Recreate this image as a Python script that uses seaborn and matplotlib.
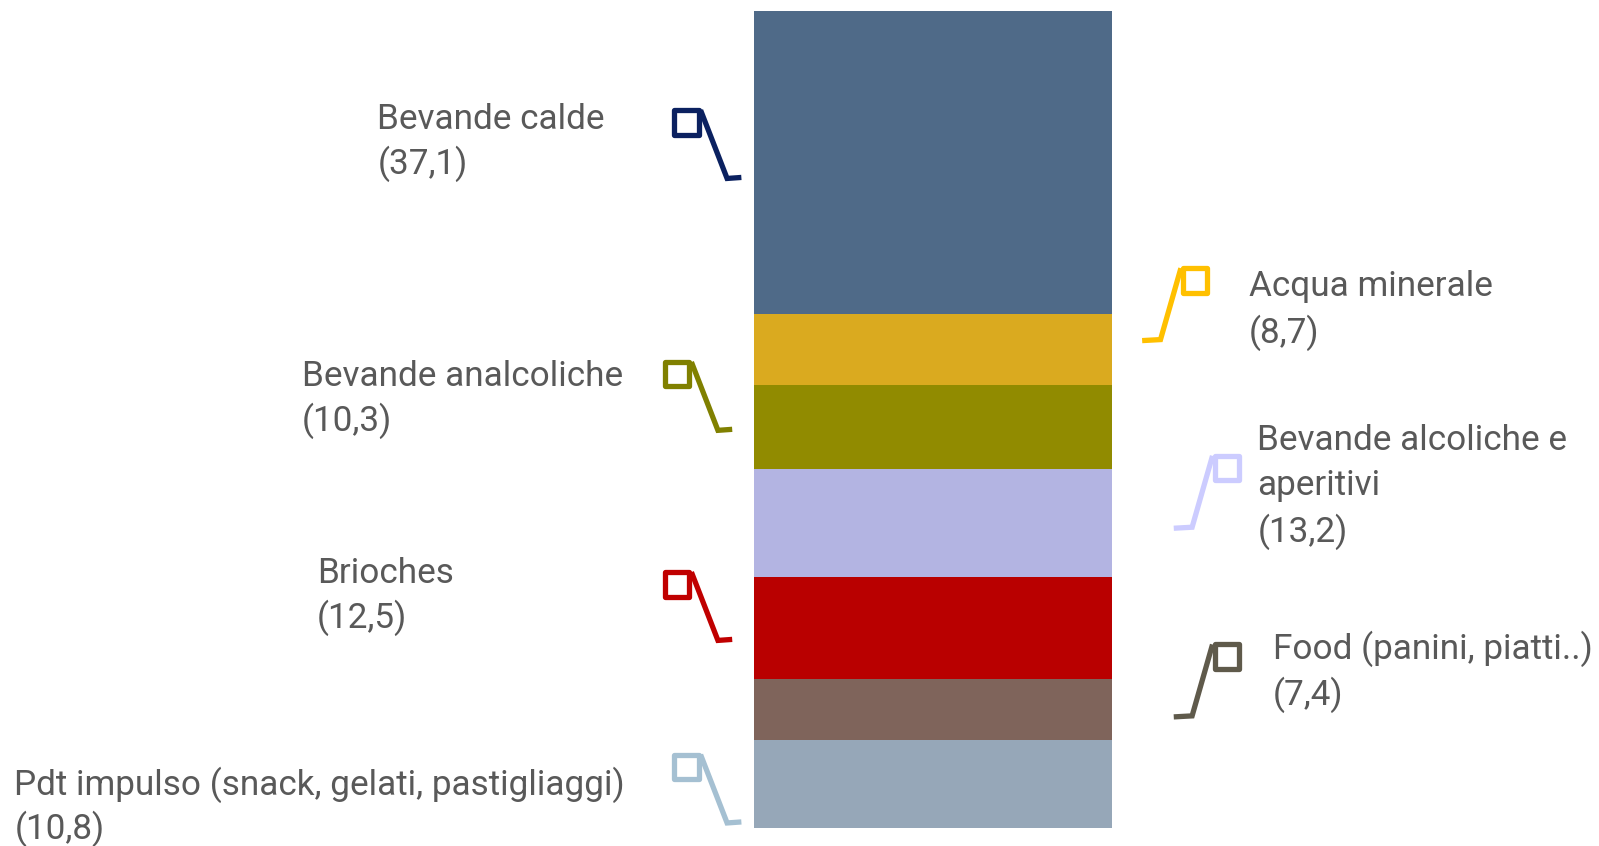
#!/usr/bin/env python3
"""Composizione dei consumi al bar: una sola colonna in pila."""
import matplotlib
matplotlib.use("Agg")
import matplotlib.pyplot as plt
import numpy as np
import seaborn as sns

sns.set_style("white")
plt.rcParams["font.family"] = ["Roboto", "DejaVu Sans"]

# data, from top of the bar to the bottom
categories = ["Bevande calde", "Acqua minerale", "Bevande analcoliche",
              "Bevande alcoliche e aperitivi", "Brioches",
              "Food (panini, piatti..)",
              "Pdt impulso (snack, gelati, pastigliaggi)"]
values = [37.1, 8.7, 10.3, 13.2, 12.5, 7.4, 10.8]
label_lines = [["Bevande calde", "(37,1)"],
               ["Acqua minerale", "(8,7)"],
               ["Bevande analcoliche", "(10,3)"],
               ["Bevande alcoliche e", "aperitivi", "(13,2)"],
               ["Brioches", "(12,5)"],
               ["Food (panini, piatti..)", "(7,4)"],
               ["Pdt impulso (snack, gelati, pastigliaggi)", "(10,8)"]]

bar_colors = ["#4F6A88", "#DAAA1F", "#918B00", "#B3B4E2",
              "#B90000", "#7F645B", "#96A7B8"]
line_colors = ["#0B2160", "#FFC000", "#808000", "#CCCCFF",
               "#C00000", "#5F5A4B", "#A5C0D2"]

W, H = 1599, 846
S = 1599 / 1568  # the positions below were read on the shrunk picture

# label placement: side, left x of text, line centre ys, square top-left
sides = ["L", "R", "L", "R", "L", "R", "L"]
text_x = [370, 1225, 296, 1233, 311, 1248, 14]
text_y = [[117, 161], [281, 326], [369, 413], [432, 476, 521],
          [562, 606], [636, 681], [770, 813]]
square_xy = [(661, 108), (1160, 263), (652, 355), (1191, 447),
             (652, 561), (1191, 632), (661, 740)]


def fx(x):
    return x * S / W


def fy(y):
    return 1 - y * S / H


fig = plt.figure(figsize=(W / 100, H / 100), dpi=100)
bar_top, bar_bot = 11, 812
ax = fig.add_axes([fx(739), fy(bar_bot), fx(1090) - fx(739),
                   fy(bar_top) - fy(bar_bot)])

# stacked bar: draw cumulative heights, tallest first
cum = np.cumsum(values[::-1])[::-1]
for h, c in zip(cum, bar_colors):
    sns.barplot(x=["tot"], y=[h], color=c, width=1, linewidth=0,
                saturation=1, ax=ax)
ax.set_xlim(-0.5, 0.5)
ax.set_ylim(0, 100)
ax.axis("off")

# connector glyphs and labels
over = fig.add_axes([0, 0, 1, 1], facecolor="none")
over.set_xlim(0, 1)
over.set_ylim(0, 1)
over.axis("off")
sq = 24
for side, (sx, sy), col in zip(sides, square_xy, line_colors):
    over.add_patch(plt.Rectangle((fx(sx), fy(sy + sq)), fx(sq), sq * S / H,
                                 fill=False, ec=col, lw=3.8,
                                 joinstyle="round"))
    if side == "L":
        px = [sx + sq + 2, sx + sq + 28, sx + sq + 42]
        py = [sy, sy + 67, sy + 66]
    else:
        px = [sx - 2, sx - 22, sx - 40]
        py = [sy, sy + 70, sy + 71]
    over.plot([fx(p) for p in px], [fy(p) for p in py], color=col, lw=3.8,
              solid_joinstyle="miter", solid_capstyle="butt")

for lines, x0, ys in zip(label_lines, text_x, text_y):
    for line, y in zip(lines, ys):
        fig.text(fx(x0), fy(y), line, ha="left", va="center",
                 fontsize=25.3, color="#595959")

fig.savefig("out.png", dpi=100)
